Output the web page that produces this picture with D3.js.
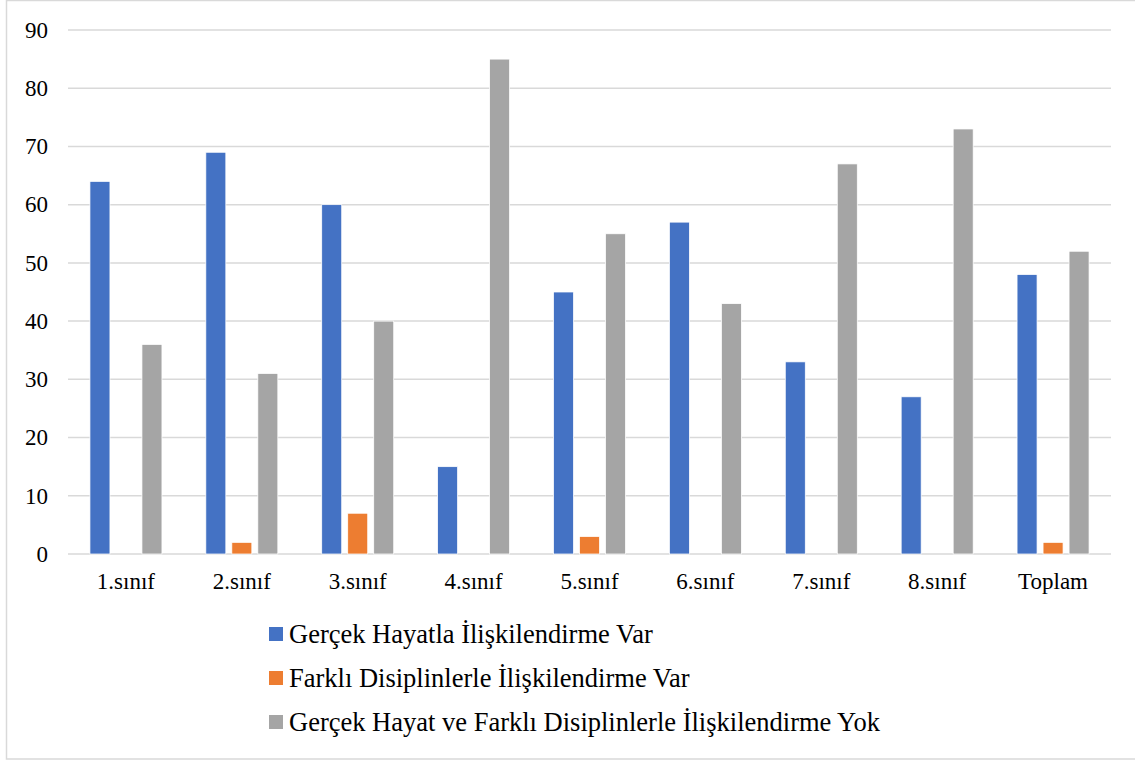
<!DOCTYPE html>
<html>
<head>
<meta charset="utf-8">
<script src="https://cdn.jsdelivr.net/npm/d3@7"></script>
</head>
<body style="margin:0">
<svg id="chart" width="1135" height="760"></svg>
<script>
// Categories (grades) and series values
const categories = ["1.sınıf", "2.sınıf", "3.sınıf", "4.sınıf", "5.sınıf", "6.sınıf", "7.sınıf", "8.sınıf", "Toplam"];
const seriesNames = [
  "Gerçek Hayatla İlişkilendirme Var",
  "Farklı Disiplinlerle İlişkilendirme Var",
  "Gerçek Hayat ve Farklı Disiplinlerle İlişkilendirme Yok"
];
const realLife = [64, 69, 60, 15, 45, 57, 33, 27, 48];
const otherDisciplines = [0, 2, 7, 0, 3, 0, 0, 0, 2];
const none = [36, 31, 40, 85, 55, 43, 67, 73, 52];
const yTicks = [0, 10, 20, 30, 40, 50, 60, 70, 80, 90];
const colors = ["#4472C4", "#ED7D31", "#A5A5A5"];

const seriesValues = [realLife, otherDisciplines, none];

const svg = d3.select("#chart");
const W = 1135, H = 760;

// outer frame
svg.append("rect")
  .attr("x", 6.5).attr("y", 0.5)
  .attr("width", W + 10).attr("height", H - 1.5)
  .attr("fill", "none").attr("stroke", "#D9D9D9").attr("stroke-width", 1.5);

const plot = { left: 68, right: 1111, top: 30, bottom: 554 };

const x = d3.scaleBand().domain(categories).range([plot.left, plot.right]).paddingInner(0).paddingOuter(0);
const y = d3.scaleLinear().domain([0, 90]).range([plot.bottom, plot.top]);

// bars within each category: 20px wide, 6px apart, centred on the band
const barW = 20, barGap = 6;
const groupW = seriesNames.length * barW + (seriesNames.length - 1) * barGap;
const xs = d3.scaleBand().domain(d3.range(seriesNames.length))
  .range([0, groupW]).paddingInner(barGap / (barW + barGap)).paddingOuter(0);

// gridlines
svg.selectAll("line.grid").data(yTicks).join("line")
  .attr("class", "grid")
  .attr("x1", plot.left).attr("x2", plot.right)
  .attr("y1", d => y(d)).attr("y2", d => y(d))
  .attr("stroke", "#D9D9D9").attr("stroke-width", 1.5);

// y-axis labels
svg.selectAll("text.ylab").data(yTicks).join("text")
  .attr("class", "ylab")
  .attr("x", 48).attr("y", d => y(d)).attr("dy", "0.34em")
  .attr("text-anchor", "end")
  .style("font-family", "Liberation Serif").style("font-size", "23px")
  .text(d => d);

// x-axis labels
svg.selectAll("text.xlab").data(categories).join("text")
  .attr("class", "xlab")
  .attr("x", d => x(d) + x.bandwidth() / 2).attr("y", plot.bottom + 35)
  .attr("text-anchor", "middle")
  .style("font-family", "Liberation Serif").style("font-size", "23px")
  .text(d => d);

// bars
seriesValues.forEach((vals, si) => {
  svg.selectAll(`rect.s${si}`).data(vals.map((v, i) => ({ v, c: categories[i] })).filter(d => d.v > 0))
    .join("rect")
    .attr("class", `s${si}`)
    .attr("x", d => x(d.c) + (x.bandwidth() - groupW) / 2 + xs(si))
    .attr("y", d => y(d.v))
    .attr("width", xs.bandwidth())
    .attr("height", d => y(0) - y(d.v))
    .attr("fill", colors[si])
    .attr("stroke", "#fff").attr("stroke-width", 0.75);
});

// legend
const legendX = 269, legendBase0 = 643, legendStep = 44;
seriesNames.forEach((name, i) => {
  const base = legendBase0 + i * legendStep;
  svg.append("rect")
    .attr("x", legendX).attr("y", base - 16).attr("width", 14).attr("height", 14)
    .attr("fill", colors[i]);
  svg.append("text")
    .attr("x", legendX + 20).attr("y", base)
    .style("font-family", "Liberation Serif").style("font-size", "26.5px")
    .text(name);
});
</script>
</body>
</html>
